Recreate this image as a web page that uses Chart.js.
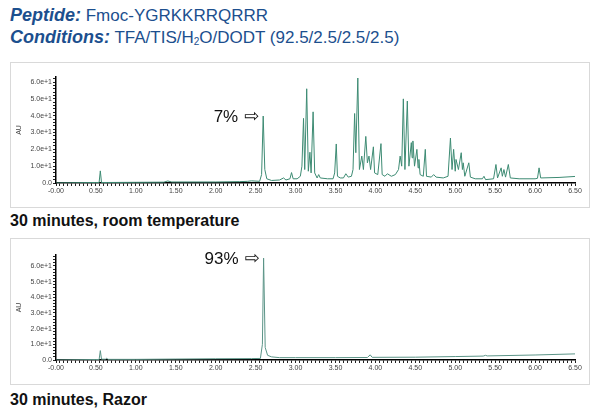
<!DOCTYPE html>
<html lang="en">
<head>
<meta charset="UTF-8">
<title>Fmoc-YGRKKRRQRRR cleavage chromatograms</title>
<script src="https://cdn.jsdelivr.net/npm/chart.js"></script>
<style>
    * { margin: 0; padding: 0; box-sizing: border-box; }
    body {
        width: 600px;
        height: 418px;
        background: #fff;
        font-family: 'Liberation Sans', Arial, sans-serif;
        position: relative;
        overflow: hidden;
    }
    .head {
        position: absolute;
        left: 10px;
        color: #1c4f8e;
        font-size: 17px;
        line-height: 20px;
        white-space: nowrap;
    }
    .head b { font-style: italic; font-size: 18px; }
    .head sub { font-size: 10px; vertical-align: -2px; }
    .panel {
        position: absolute;
        left: 10px;
        width: 580px;
        border: 1px solid #d9d9d9;
        background: #fff;
    }
    .caption {
        position: absolute;
        left: 10px;
        font-size: 16px;
        font-weight: bold;
        color: #111;
        white-space: nowrap;
    }
</style>
</head>
<body>
<div class="head" style="top:5px"><b>Peptide:</b> Fmoc-YGRKKRRQRRR</div>
<div class="head" style="top:27px"><b>Conditions:</b> TFA/TIS/H<sub>2</sub>O/DODT (92.5/2.5/2.5/2.5)</div>

<div class="panel" style="top:62px;height:146px"><canvas id="roomTemp" width="578" height="144"></canvas></div>
<div class="caption" style="top:212px">30 minutes, room temperature</div>

<div class="panel" style="top:238px;height:147px"><canvas id="razor" width="578" height="145"></canvas></div>
<div class="caption" style="top:391px">30 minutes, Razor</div>

<script>
// retention time (min) / absorbance (AU)
const roomTime = [0.00, 0.50, 0.54, 0.555, 0.57, 0.65, 1.00, 1.35, 1.40, 1.45, 2.00, 2.30, 2.40, 2.45, 2.55,
    2.575, 2.595, 2.615, 2.64, 2.70, 2.80, 2.85, 2.88, 2.93, 2.95, 2.97, 3.02, 3.06, 3.08, 3.10, 3.115,
    3.14, 3.16, 3.18, 3.195, 3.22, 3.24, 3.27, 3.29, 3.31, 3.40, 3.47, 3.49, 3.51, 3.525, 3.56, 3.60,
    3.63, 3.66, 3.70, 3.72, 3.74, 3.755, 3.78, 3.80, 3.83, 3.85, 3.88, 3.90, 3.92, 3.94, 3.975, 3.99,
    4.03, 4.07, 4.085, 4.12, 4.15, 4.20, 4.25, 4.29, 4.31, 4.33, 4.35, 4.37, 4.40, 4.42, 4.45, 4.46,
    4.47, 4.49, 4.52, 4.535, 4.545, 4.56, 4.60, 4.625, 4.64, 4.70, 4.73, 4.76, 4.85, 4.91, 4.94, 4.96,
    4.98, 5.00, 5.01, 5.04, 5.075, 5.09, 5.10, 5.12, 5.17, 5.19, 5.25, 5.34, 5.36, 5.38, 5.48, 5.51,
    5.53, 5.575, 5.59, 5.61, 5.63, 5.665, 5.69, 5.80, 6.00, 6.03, 6.05, 6.07, 6.30, 6.50];
const roomSignal = [0, 0.3, 0.3, 7.2, 0.3, 0.3, 0.4, 0.5, 1.2, 0.6, 0.6, 0.8, 1.0, 1.3, 1.0,
    5, 39.8, 8, 2.5, 1.5, 1.8, 3.0, 1.8, 2.5, 6.2, 2.5, 2.5, 4, 10, 38.4, 8,
    56, 7, 18.3, 6, 42.3, 6, 3, 5, 3, 2.5, 2.5, 6, 23.2, 4, 3, 3,
    5.5, 3.5, 4, 8, 41.3, 18, 62.4, 8, 16, 8, 27.7, 12, 16, 8, 21.5, 6,
    5, 23.4, 5, 4, 5.5, 4, 5, 8, 16, 10, 50, 8, 48.7, 10, 24, 15,
    25, 10, 20, 9, 14, 5, 4, 20, 4, 3.5, 5, 3.5, 3, 4, 26.7, 8,
    20, 7, 14, 8, 18, 8, 12, 4, 12, 3.5, 2.5, 2.5, 4, 2, 2.5, 11,
    3, 9, 4, 8, 3.5, 11, 3, 2.5, 2.5, 2.8, 9, 3, 3.3, 3.9];

const razorTime = [0.00, 0.50, 0.54, 0.555, 0.57, 0.62, 0.635, 0.65, 1.00, 1.50, 2.00, 2.45, 2.56,
    2.585, 2.60, 2.62, 2.65, 2.70, 2.80, 3.00, 3.50, 3.90, 3.935, 3.96, 4.50, 5.00, 5.35, 5.38, 5.40,
    6.00, 6.50];
const razorSignal = [0, 0.3, 0.3, 6, 0.5, 0.5, 1.2, 0.4, 0.4, 0.6, 0.8, 0.9, 1.0,
    10, 65, 8, 3, 2, 1.5, 1.5, 1.5, 1.6, 3.3, 1.7, 1.8, 2.2, 2.5, 3, 2.6,
    3.2, 3.9];

const yTicks = [0, 10, 20, 30, 40, 50, 60];
const roomLabel = ['7%', 2.595, 39.8];
const razorLabel = ['93%', 2.60, 65];

const pairs = (xs, ys) => xs.map((x, i) => ({ x: x, y: ys[i] }));

function xTick(v) {
    const h = Math.round(v * 100);
    if (h % 50 !== 0) return '';
    return h === 0 ? '-0.00' : (h / 100).toFixed(2);
}

function yTick(v) {
    const r = Math.round(v);
    if (!yTicks.includes(r)) return '';
    return r === 0 ? '0.0' : (r / 10).toFixed(1) + 'e+1';
}

// writes "xx% ⇨" just left of the main peak
const peakNote = {
    id: 'peakNote',
    afterDatasetsDraw(chart, args, opts) {
        const ctx = chart.ctx;
        const px = chart.scales.x.getPixelForValue(opts.at[1]);
        const py = chart.scales.y.getPixelForValue(opts.at[2]);
        ctx.save();
        ctx.fillStyle = '#111';
        ctx.textBaseline = 'middle';
        ctx.textAlign = 'right';
        ctx.font = '18px "DejaVu Sans"';
        ctx.fillText('\u21E8', px - 4, py + 1);
        ctx.font = '17px "Liberation Sans", Arial';
        ctx.fillText(opts.at[0], px - 25, py + 1);
        ctx.restore();
    }
};

function makeChart(id, data, color, yMax, top, note) {
    return new Chart(document.getElementById(id), {
        type: 'line',
        data: {
            datasets: [{
                data: data,
                borderColor: color,
                borderWidth: 1,
                pointRadius: 0,
                tension: 0,
                fill: false
            }]
        },
        plugins: [peakNote],
        options: {
            responsive: false,
            animation: false,
            layout: { padding: { top: top, right: 14, left: 0, bottom: 0 } },
            plugins: {
                legend: { display: false },
                tooltip: { enabled: false },
                peakNote: { at: note }
            },
            scales: {
                x: {
                    type: 'linear',
                    min: 0,
                    max: 6.5,
                    afterFit: s => { s.height = 24; },
                    border: { color: '#000', width: 1.5 },
                    grid: { drawOnChartArea: false, drawTicks: true, tickLength: 3, color: '#222' },
                    ticks: {
                        stepSize: 0.05,
                        autoSkip: false,
                        maxRotation: 0,
                        minRotation: 0,
                        padding: 1,
                        color: '#444',
                        font: { size: 7, family: '"Liberation Sans", Arial' },
                        callback: xTick
                    }
                },
                y: {
                    min: 0,
                    max: yMax,
                    afterFit: s => { s.width = 45; },
                    border: { color: '#000', width: 1.5 },
                    grid: { drawOnChartArea: false, drawTicks: true, tickLength: 3, color: '#222' },
                    title: {
                        display: true,
                        text: 'AU',
                        color: '#444',
                        font: { size: 7, family: '"Liberation Sans", Arial' }
                    },
                    ticks: {
                        stepSize: 2,
                        includeBounds: false,
                        autoSkip: false,
                        padding: 1,
                        color: '#444',
                        font: { size: 7, family: '"Liberation Sans", Arial' },
                        callback: yTick
                    }
                }
            }
        }
    });
}

makeChart('roomTemp', pairs(roomTime, roomSignal), '#3d8b73', 63, 14, roomLabel);
makeChart('razor', pairs(razorTime, razorSignal), '#5b9487', 67, 16, razorLabel);
</script>
</body>
</html>
